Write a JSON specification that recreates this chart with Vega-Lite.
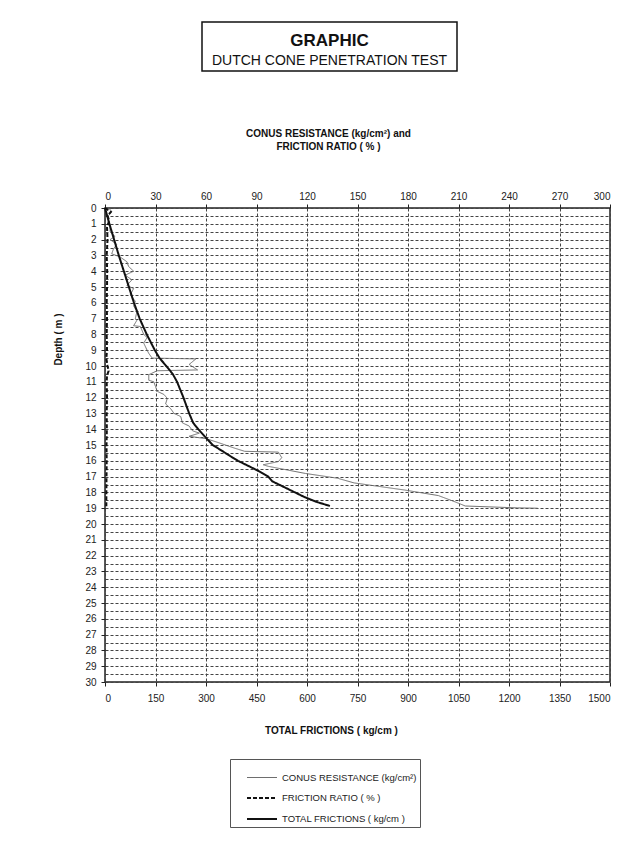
{
  "$schema": "https://vega.github.io/schema/vega-lite/v6.json",
  "background": "white",
  "padding": {"left": 52, "top": 21, "right": 20, "bottom": 20},
  "config": {
    "font": "Liberation Sans",
    "view": {"stroke": "#222", "strokeWidth": 1.5},
    "axis": {
      "labelFont": "Liberation Sans", "labelFontSize": 10, "labelColor": "#222",
      "titleFont": "Liberation Sans", "titleFontSize": 10, "titleFontWeight": "bold", "titleColor": "#111",
      "domain": false, "tickColor": "#222", "tickSize": 4, "labelPadding": 3,
      "gridColor": "#444", "gridDash": [3, 2], "gridWidth": 1, "gridOpacity": 1
    }
  },
  "datasets": {
    "header": [
      {"row": "a", "label": "GRAPHIC"},
      {"row": "b", "label": "DUTCH CONE PENETRATION TEST"}
    ],
    "profile": [
      {"series": "CONUS RESISTANCE (kg/cm²)", "d": 0, "v": 2},
      {"series": "CONUS RESISTANCE (kg/cm²)", "d": 0.2, "v": 4},
      {"series": "CONUS RESISTANCE (kg/cm²)", "d": 0.5, "v": 2},
      {"series": "CONUS RESISTANCE (kg/cm²)", "d": 0.85, "v": 2},
      {"series": "CONUS RESISTANCE (kg/cm²)", "d": 1.2, "v": 3},
      {"series": "CONUS RESISTANCE (kg/cm²)", "d": 1.5, "v": 3},
      {"series": "CONUS RESISTANCE (kg/cm²)", "d": 1.8, "v": 6},
      {"series": "CONUS RESISTANCE (kg/cm²)", "d": 2.0, "v": 3},
      {"series": "CONUS RESISTANCE (kg/cm²)", "d": 2.3, "v": 7},
      {"series": "CONUS RESISTANCE (kg/cm²)", "d": 2.6, "v": 5},
      {"series": "CONUS RESISTANCE (kg/cm²)", "d": 2.9, "v": 4},
      {"series": "CONUS RESISTANCE (kg/cm²)", "d": 3.1, "v": 9},
      {"series": "CONUS RESISTANCE (kg/cm²)", "d": 3.4, "v": 13},
      {"series": "CONUS RESISTANCE (kg/cm²)", "d": 3.7, "v": 14},
      {"series": "CONUS RESISTANCE (kg/cm²)", "d": 4.0, "v": 17},
      {"series": "CONUS RESISTANCE (kg/cm²)", "d": 4.25, "v": 12},
      {"series": "CONUS RESISTANCE (kg/cm²)", "d": 4.55, "v": 16},
      {"series": "CONUS RESISTANCE (kg/cm²)", "d": 4.9, "v": 13},
      {"series": "CONUS RESISTANCE (kg/cm²)", "d": 5.1, "v": 17},
      {"series": "CONUS RESISTANCE (kg/cm²)", "d": 5.5, "v": 15},
      {"series": "CONUS RESISTANCE (kg/cm²)", "d": 5.9, "v": 18},
      {"series": "CONUS RESISTANCE (kg/cm²)", "d": 6.2, "v": 17},
      {"series": "CONUS RESISTANCE (kg/cm²)", "d": 6.55, "v": 19},
      {"series": "CONUS RESISTANCE (kg/cm²)", "d": 7.0, "v": 18},
      {"series": "CONUS RESISTANCE (kg/cm²)", "d": 7.1, "v": 19},
      {"series": "CONUS RESISTANCE (kg/cm²)", "d": 7.45, "v": 17},
      {"series": "CONUS RESISTANCE (kg/cm²)", "d": 7.5, "v": 21},
      {"series": "CONUS RESISTANCE (kg/cm²)", "d": 8.0, "v": 23},
      {"series": "CONUS RESISTANCE (kg/cm²)", "d": 8.2, "v": 25},
      {"series": "CONUS RESISTANCE (kg/cm²)", "d": 8.55, "v": 23},
      {"series": "CONUS RESISTANCE (kg/cm²)", "d": 9.0, "v": 25},
      {"series": "CONUS RESISTANCE (kg/cm²)", "d": 9.2, "v": 26},
      {"series": "CONUS RESISTANCE (kg/cm²)", "d": 9.5, "v": 28},
      {"series": "CONUS RESISTANCE (kg/cm²)", "d": 9.55, "v": 54},
      {"series": "CONUS RESISTANCE (kg/cm²)", "d": 9.9, "v": 50},
      {"series": "CONUS RESISTANCE (kg/cm²)", "d": 10.25, "v": 55},
      {"series": "CONUS RESISTANCE (kg/cm²)", "d": 10.3, "v": 31},
      {"series": "CONUS RESISTANCE (kg/cm²)", "d": 10.55, "v": 26},
      {"series": "CONUS RESISTANCE (kg/cm²)", "d": 10.9, "v": 26},
      {"series": "CONUS RESISTANCE (kg/cm²)", "d": 11.0, "v": 29},
      {"series": "CONUS RESISTANCE (kg/cm²)", "d": 11.3, "v": 30},
      {"series": "CONUS RESISTANCE (kg/cm²)", "d": 11.6, "v": 31},
      {"series": "CONUS RESISTANCE (kg/cm²)", "d": 11.8, "v": 35},
      {"series": "CONUS RESISTANCE (kg/cm²)", "d": 12.05, "v": 37},
      {"series": "CONUS RESISTANCE (kg/cm²)", "d": 12.4, "v": 36},
      {"series": "CONUS RESISTANCE (kg/cm²)", "d": 12.7, "v": 39},
      {"series": "CONUS RESISTANCE (kg/cm²)", "d": 13.0, "v": 41},
      {"series": "CONUS RESISTANCE (kg/cm²)", "d": 13.2, "v": 45},
      {"series": "CONUS RESISTANCE (kg/cm²)", "d": 13.6, "v": 46},
      {"series": "CONUS RESISTANCE (kg/cm²)", "d": 13.8, "v": 50},
      {"series": "CONUS RESISTANCE (kg/cm²)", "d": 14.1, "v": 52},
      {"series": "CONUS RESISTANCE (kg/cm²)", "d": 14.25, "v": 56},
      {"series": "CONUS RESISTANCE (kg/cm²)", "d": 14.45, "v": 50},
      {"series": "CONUS RESISTANCE (kg/cm²)", "d": 14.6, "v": 60},
      {"series": "CONUS RESISTANCE (kg/cm²)", "d": 14.8, "v": 66},
      {"series": "CONUS RESISTANCE (kg/cm²)", "d": 15.2, "v": 77},
      {"series": "CONUS RESISTANCE (kg/cm²)", "d": 15.4, "v": 83},
      {"series": "CONUS RESISTANCE (kg/cm²)", "d": 15.45, "v": 103},
      {"series": "CONUS RESISTANCE (kg/cm²)", "d": 15.8, "v": 105},
      {"series": "CONUS RESISTANCE (kg/cm²)", "d": 16.05, "v": 103},
      {"series": "CONUS RESISTANCE (kg/cm²)", "d": 16.25, "v": 94},
      {"series": "CONUS RESISTANCE (kg/cm²)", "d": 16.35, "v": 97},
      {"series": "CONUS RESISTANCE (kg/cm²)", "d": 16.8, "v": 119},
      {"series": "CONUS RESISTANCE (kg/cm²)", "d": 17.1, "v": 138},
      {"series": "CONUS RESISTANCE (kg/cm²)", "d": 17.4, "v": 148},
      {"series": "CONUS RESISTANCE (kg/cm²)", "d": 17.85, "v": 178},
      {"series": "CONUS RESISTANCE (kg/cm²)", "d": 18.2, "v": 198},
      {"series": "CONUS RESISTANCE (kg/cm²)", "d": 18.6, "v": 208},
      {"series": "CONUS RESISTANCE (kg/cm²)", "d": 18.86, "v": 214},
      {"series": "CONUS RESISTANCE (kg/cm²)", "d": 18.98, "v": 245},
      {"series": "CONUS RESISTANCE (kg/cm²)", "d": 19.0, "v": 257},
      {"series": "FRICTION RATIO ( % )", "d": 0, "v": 0},
      {"series": "FRICTION RATIO ( % )", "d": 0.25, "v": 3.5},
      {"series": "FRICTION RATIO ( % )", "d": 0.5, "v": 1.5},
      {"series": "FRICTION RATIO ( % )", "d": 0.8, "v": 2.5},
      {"series": "FRICTION RATIO ( % )", "d": 1.2, "v": 1.2},
      {"series": "FRICTION RATIO ( % )", "d": 2, "v": 1.5},
      {"series": "FRICTION RATIO ( % )", "d": 3, "v": 1.0},
      {"series": "FRICTION RATIO ( % )", "d": 4, "v": 1.3},
      {"series": "FRICTION RATIO ( % )", "d": 5, "v": 1.2},
      {"series": "FRICTION RATIO ( % )", "d": 6, "v": 1.0},
      {"series": "FRICTION RATIO ( % )", "d": 7, "v": 1.2},
      {"series": "FRICTION RATIO ( % )", "d": 8, "v": 1.0},
      {"series": "FRICTION RATIO ( % )", "d": 9, "v": 1.2},
      {"series": "FRICTION RATIO ( % )", "d": 9.5, "v": 0.8},
      {"series": "FRICTION RATIO ( % )", "d": 10, "v": 1.5},
      {"series": "FRICTION RATIO ( % )", "d": 10.3, "v": 2.2},
      {"series": "FRICTION RATIO ( % )", "d": 10.6, "v": 1.2},
      {"series": "FRICTION RATIO ( % )", "d": 11, "v": 1.0},
      {"series": "FRICTION RATIO ( % )", "d": 12, "v": 1.2},
      {"series": "FRICTION RATIO ( % )", "d": 13, "v": 1.0},
      {"series": "FRICTION RATIO ( % )", "d": 14, "v": 1.1},
      {"series": "FRICTION RATIO ( % )", "d": 15, "v": 0.9},
      {"series": "FRICTION RATIO ( % )", "d": 16, "v": 1.0},
      {"series": "FRICTION RATIO ( % )", "d": 17, "v": 0.9},
      {"series": "FRICTION RATIO ( % )", "d": 18, "v": 0.8},
      {"series": "FRICTION RATIO ( % )", "d": 19, "v": 0.8},
      {"series": "TOTAL FRICTIONS ( kg/cm )", "d": 0, "v": 0},
      {"series": "TOTAL FRICTIONS ( kg/cm )", "d": 1, "v": 13},
      {"series": "TOTAL FRICTIONS ( kg/cm )", "d": 2, "v": 27},
      {"series": "TOTAL FRICTIONS ( kg/cm )", "d": 3, "v": 41},
      {"series": "TOTAL FRICTIONS ( kg/cm )", "d": 4, "v": 56},
      {"series": "TOTAL FRICTIONS ( kg/cm )", "d": 5, "v": 71},
      {"series": "TOTAL FRICTIONS ( kg/cm )", "d": 6, "v": 86},
      {"series": "TOTAL FRICTIONS ( kg/cm )", "d": 7, "v": 103},
      {"series": "TOTAL FRICTIONS ( kg/cm )", "d": 8, "v": 124},
      {"series": "TOTAL FRICTIONS ( kg/cm )", "d": 9, "v": 148},
      {"series": "TOTAL FRICTIONS ( kg/cm )", "d": 9.5, "v": 162},
      {"series": "TOTAL FRICTIONS ( kg/cm )", "d": 10, "v": 182},
      {"series": "TOTAL FRICTIONS ( kg/cm )", "d": 10.5, "v": 201},
      {"series": "TOTAL FRICTIONS ( kg/cm )", "d": 11, "v": 214},
      {"series": "TOTAL FRICTIONS ( kg/cm )", "d": 12, "v": 233},
      {"series": "TOTAL FRICTIONS ( kg/cm )", "d": 13, "v": 250},
      {"series": "TOTAL FRICTIONS ( kg/cm )", "d": 13.6, "v": 262},
      {"series": "TOTAL FRICTIONS ( kg/cm )", "d": 14, "v": 277},
      {"series": "TOTAL FRICTIONS ( kg/cm )", "d": 14.5, "v": 298},
      {"series": "TOTAL FRICTIONS ( kg/cm )", "d": 15, "v": 320},
      {"series": "TOTAL FRICTIONS ( kg/cm )", "d": 15.7, "v": 372},
      {"series": "TOTAL FRICTIONS ( kg/cm )", "d": 16, "v": 395},
      {"series": "TOTAL FRICTIONS ( kg/cm )", "d": 16.6, "v": 452},
      {"series": "TOTAL FRICTIONS ( kg/cm )", "d": 17, "v": 485},
      {"series": "TOTAL FRICTIONS ( kg/cm )", "d": 17.3, "v": 497},
      {"series": "TOTAL FRICTIONS ( kg/cm )", "d": 17.8, "v": 545},
      {"series": "TOTAL FRICTIONS ( kg/cm )", "d": 18.3, "v": 593},
      {"series": "TOTAL FRICTIONS ( kg/cm )", "d": 18.6, "v": 628},
      {"series": "TOTAL FRICTIONS ( kg/cm )", "d": 18.86, "v": 668}
    ]
  },
  "vconcat": [
    {
      "hconcat": [
        {
          "width": 96,
          "height": 49,
          "view": {"stroke": null},
          "data": {"values": [{"k": ""}]},
          "mark": {"type": "text", "opacity": 0},
          "encoding": {"text": {"field": "k"}}
        },
        {
          "width": 255,
          "height": 49,
          "view": {"stroke": "#111", "strokeWidth": 1.5},
          "data": {"name": "header"},
          "encoding": {
            "y": {"field": "row", "type": "nominal", "axis": null,
                  "scale": {"type": "point", "domain": ["a", "b"], "padding": 0.725, "align": 0.655}},
            "text": {"field": "label"}
          },
          "layer": [
            {"transform": [{"filter": "datum.row === 'a'"}],
             "mark": {"type": "text", "font": "Liberation Sans", "fontSize": 17, "fontWeight": "bold", "color": "#111", "baseline": "middle"}},
            {"transform": [{"filter": "datum.row === 'b'"}],
             "mark": {"type": "text", "font": "Liberation Sans", "fontSize": 14, "color": "#111", "baseline": "middle"}}
          ]
        }
      ],
      "spacing": 0
    },
    {
      "width": 505,
      "height": 474,
      "data": {"name": "profile"},
      "encoding": {
        "y": {"field": "d", "type": "quantitative",
              "scale": {"domain": [0, 30], "reverse": true, "nice": false, "zero": false},
              "axis": {
                "values": [0,0.5,1,1.5,2,2.5,3,3.5,4,4.5,5,5.5,6,6.5,7,7.5,8,8.5,9,9.5,10,10.5,11,11.5,12,12.5,13,13.5,14,14.5,15,15.5,16,16.5,17,17.5,18,18.5,19,19.5,20,20.5,21,21.5,22,22.5,23,23.5,24,24.5,25,25.5,26,26.5,27,27.5,28,28.5,29,29.5,30],
                "labelExpr": "datum.value % 1 === 0 ? format(datum.value, 'd') : ''",
                "tickOpacity": {"condition": {"test": "datum.value % 1 === 0", "value": 1}, "value": 0},
                "grid": true,
                "labelPadding": 5,
                "title": "Depth ( m )",
                "titleX": -42,
                "titleY": 131
              }},
        "order": {"field": "d", "type": "quantitative"},
        "color": {"field": "series", "type": "nominal",
                  "scale": {"domain": ["CONUS RESISTANCE (kg/cm²)", "FRICTION RATIO ( % )", "TOTAL FRICTIONS ( kg/cm )"],
                            "range": ["#6e6e6e", "#111111", "#111111"]},
                  "legend": {"orient": "none", "legendX": 125, "legendY": 737, "title": null,
                             "direction": "vertical", "symbolType": "stroke", "symbolSize": 900,
                             "symbolOffset": 13,
                             "labelFont": "Liberation Sans", "labelFontSize": 9.5, "labelColor": "#222",
                             "labelLimit": 300, "strokeColor": "#555", "fillColor": "white",
                             "padding": 3, "rowPadding": 0}},
        "strokeDash": {"field": "series", "type": "nominal",
                       "scale": {"domain": ["CONUS RESISTANCE (kg/cm²)", "FRICTION RATIO ( % )", "TOTAL FRICTIONS ( kg/cm )"],
                                 "range": [[1, 0], [4, 2], [1, 0]]},
                       "legend": {"orient": "none", "legendX": 125, "legendY": 737, "title": null}},
        "strokeWidth": {"field": "series", "type": "nominal",
                        "scale": {"type": "ordinal", "domain": ["CONUS RESISTANCE (kg/cm²)", "FRICTION RATIO ( % )", "TOTAL FRICTIONS ( kg/cm )"],
                                  "range": [1, 2, 2]},
                        "legend": {"orient": "none", "legendX": 125, "legendY": 737, "title": null}}
      },
      "layer": [
        {
          "transform": [{"filter": "datum.series !== 'TOTAL FRICTIONS ( kg/cm )'"}],
          "mark": {"type": "line", "interpolate": "linear"},
          "encoding": {
            "x": {"field": "v", "type": "quantitative",
                  "scale": {"domain": [0, 300], "nice": false, "zero": false},
                  "axis": {"orient": "top", "values": [0,30,60,90,120,150,180,210,240,270,300],
                           "format": "d", "grid": true,
                           "title": ["CONUS RESISTANCE (kg/cm²) and", "FRICTION RATIO ( % )"],
                           "titleX": 223, "titlePadding": 40, "titleLineHeight": 13}}
          }
        },
        {
          "transform": [{"filter": "datum.series === 'TOTAL FRICTIONS ( kg/cm )'"}],
          "mark": {"type": "line", "interpolate": "linear"},
          "encoding": {
            "x": {"field": "v", "type": "quantitative",
                  "scale": {"domain": [0, 1500], "nice": false, "zero": false},
                  "axis": {"orient": "bottom", "values": [0,150,300,450,600,750,900,1050,1200,1350,1500],
                           "format": "d", "grid": false, "labelPadding": 7,
                           "title": "TOTAL FRICTIONS ( kg/cm )",
                           "titleX": 226, "titlePadding": 22}}
          }
        }
      ],
      "resolve": {"scale": {"x": "independent"}}
    }
  ],
  "spacing": 55,
  "center": false
}
